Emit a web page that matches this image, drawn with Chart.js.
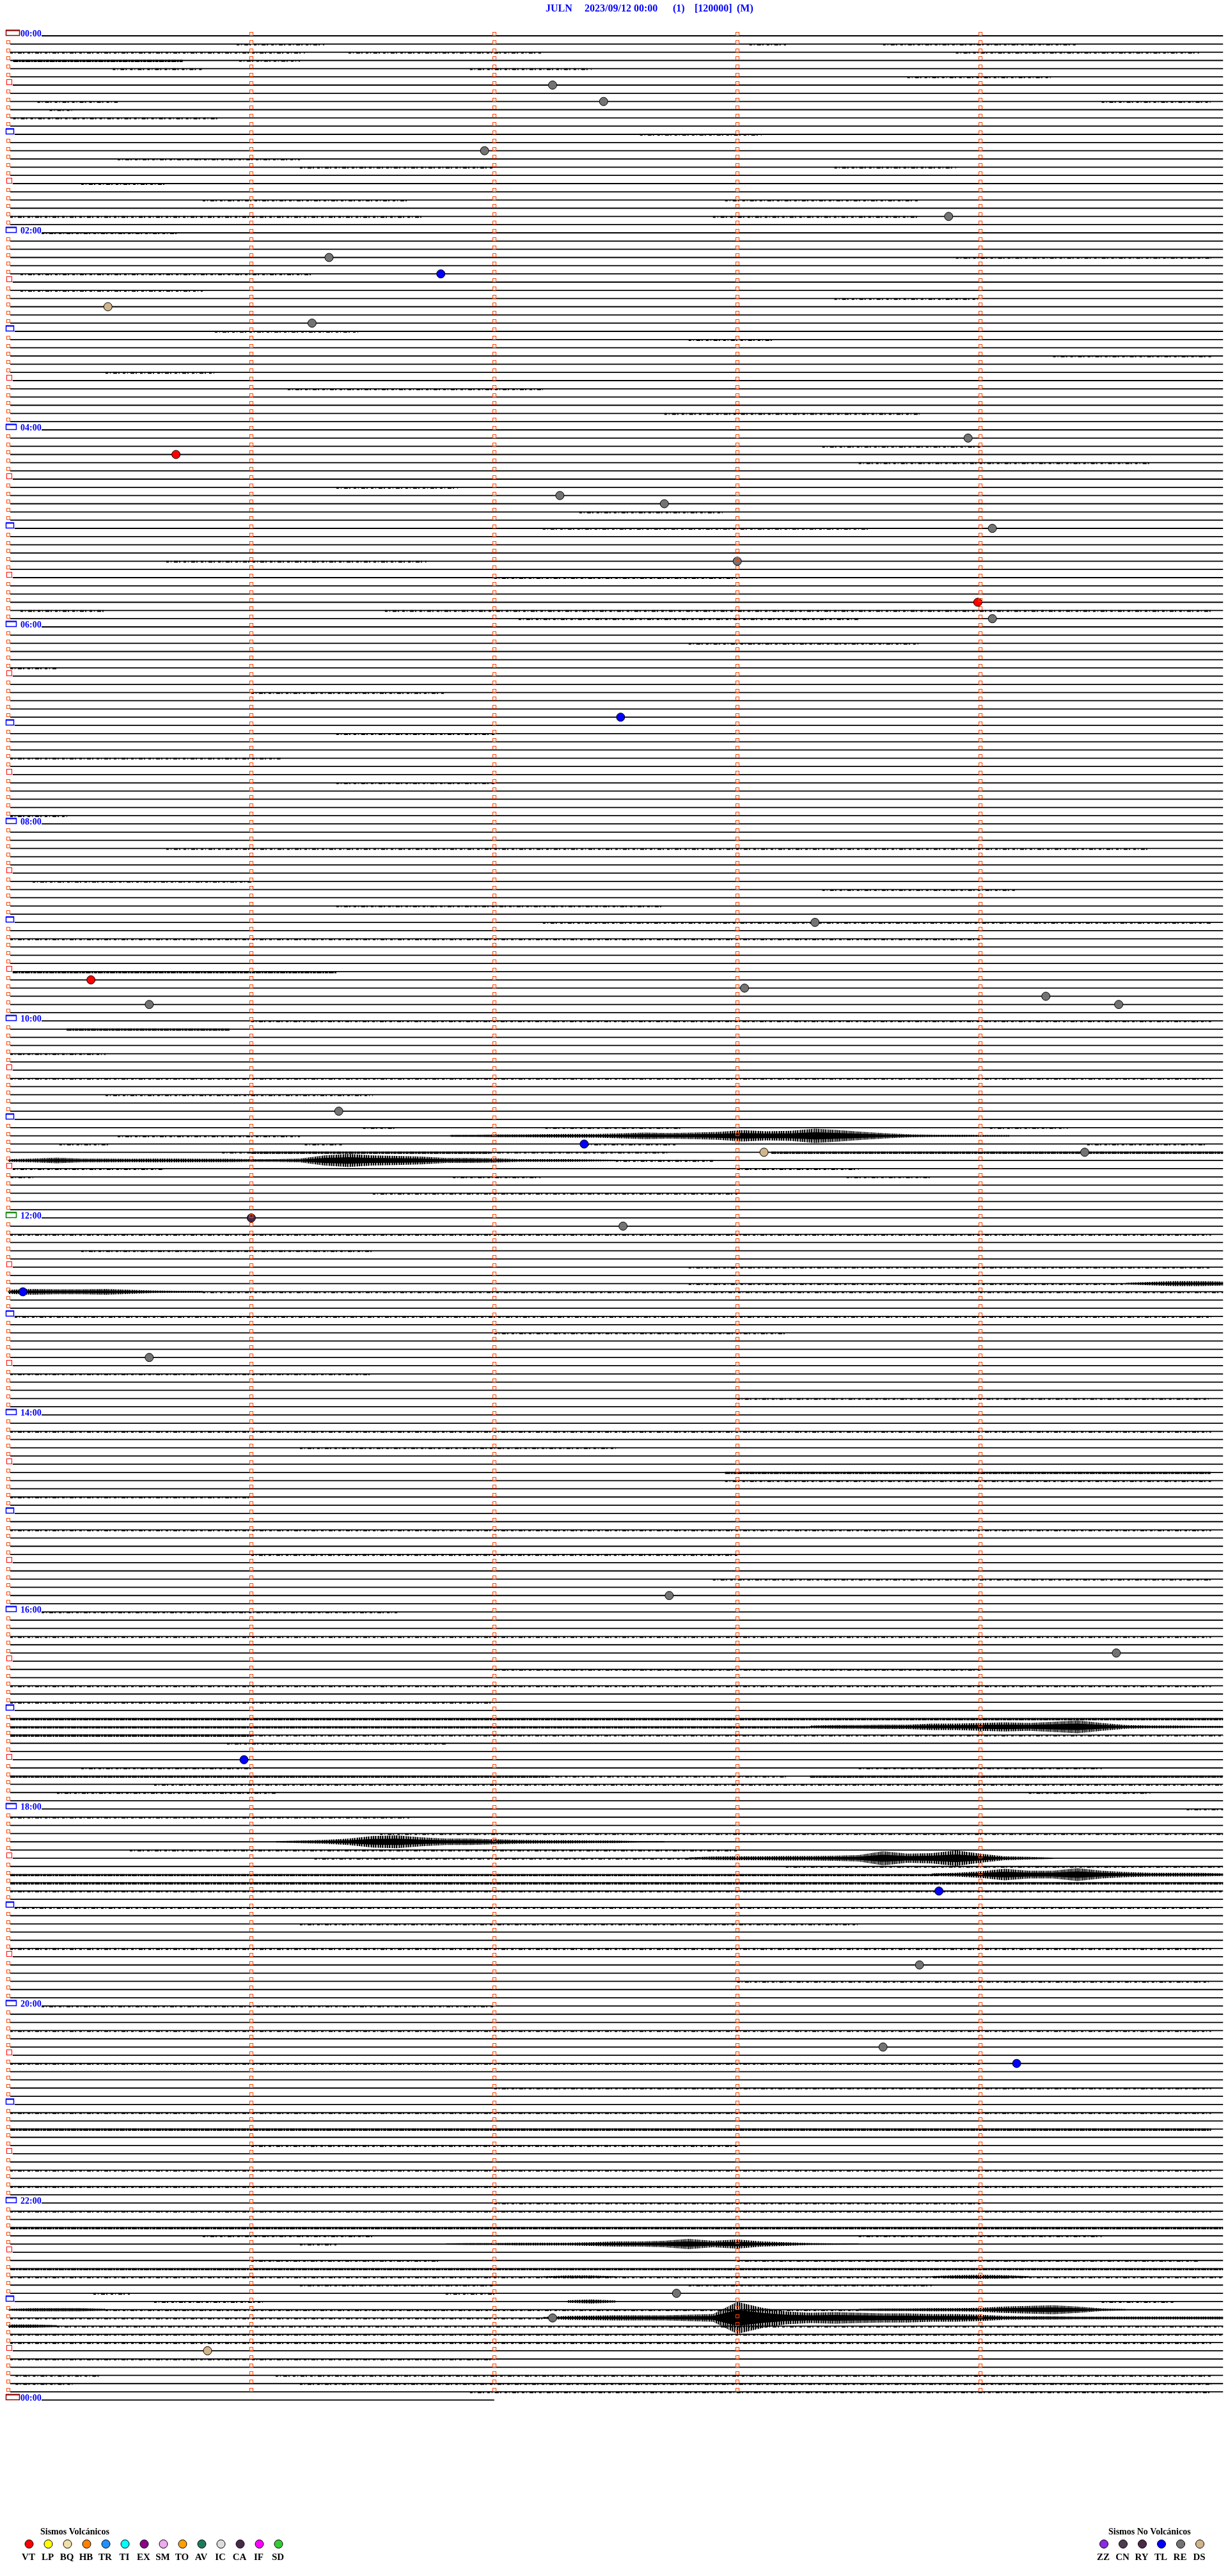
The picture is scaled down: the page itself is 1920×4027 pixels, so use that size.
<!DOCTYPE html>
<html>
<head>
<meta charset="utf-8">
<script src="https://cdn.jsdelivr.net/npm/chart.js@4/dist/chart.umd.min.js"></script>
<style>
  html, body { margin: 0; padding: 0; background: #fff; }
  #heli { display: block; }
</style>
</head>
<body>
<canvas id="heli" width="1920" height="4027"></canvas>
<script>
// Helicorder JULN 2023/09/12 - 5 minute traces, 12 per hour
const stationTitle = ['JULN', '2023/09/12 00:00', '(1)', '[120000]', '(M)'];
const lineCount = 289;          // 288 traces + the first trace of the next day
const minutesPerLine = 5;
const lastLineEnd = 2.0;        // next-day trace stops at minute 2

// legend
const volcTypes = ['VT', 'LP', 'BQ', 'HB', 'TR', 'TI', 'EX', 'SM', 'TO', 'AV', 'IC', 'CA', 'IF', 'SD'];
const volcColors = ['#ff0000', '#ffff00', '#f0e0a8', '#ff8000', '#1e90ff', '#00ffff', '#8b008b', '#eeaaee', '#ffa000', '#1f7a5c', '#dcdcdc', '#4a2848', '#ff00ff', '#33cc33'];
const nonVolcTypes = ['ZZ', 'CN', 'RY', 'TL', 'RE', 'DS'];
const nonVolcColors = ['#8a2be2', '#4e3a50', '#4a2a48', '#0000ff', '#737373', '#d2b48c'];

// classified events: trace index, minute inside trace, type
const eventLines = [6, 8, 14, 22, 27, 29, 33, 35, 49, 51, 56, 57, 60, 64, 69, 71, 83, 108, 115, 116, 117, 118, 118, 131, 135, 136, 136, 144, 145, 153, 161, 190, 197, 210, 226, 235, 245, 247, 275, 278, 282];
const eventMinutes = [2.24, 2.45, 1.96, 3.87, 1.32, 1.78, 0.41, 1.25, 3.95, 0.69, 2.27, 2.70, 4.05, 3.00, 3.99, 4.05, 2.52, 3.32, 0.34, 3.03, 4.27, 0.58, 4.57, 1.36, 2.37, 3.11, 4.43, 1.00, 2.53, 0.06, 0.58, 2.72, 4.56, 0.97, 3.83, 3.75, 3.60, 4.15, 2.75, 2.24, 0.82];
const eventTypes = ['RE', 'RE', 'RE', 'RE', 'RE', 'TL', 'DS', 'RE', 'RE', 'VT', 'RE', 'RE', 'RE', 'RE', 'VT', 'RE', 'TL', 'RE', 'VT', 'RE', 'RE', 'RE', 'RE', 'RE', 'TL', 'DS', 'RE', 'CA', 'RE', 'TL', 'RE', 'RE', 'RE', 'TL', 'TL', 'RE', 'RE', 'TL', 'RE', 'RE', 'DS'];

// background noise stretches: [trace, from min, to min, level 1 light / 2 dense]
const speckle = [
  [1, 0.94, 1.3, 1], [1, 3.05, 3.2, 1], [1, 3.6, 4.4, 1],
  [2, 0.0, 1.22, 1], [2, 1.4, 2.2, 1], [2, 3.9, 4.9, 1],
  [3, 0.02, 0.72, 2], [3, 0.95, 1.2, 1], [4, 0.43, 0.8, 1], [4, 1.9, 2.4, 1],
  [5, 3.7, 4.3, 1], [8, 0.12, 0.45, 1], [8, 4.5, 4.95, 1], [9, 0.17, 0.27, 1], [10, 0.02, 0.87, 1],
  [12, 2.6, 3.1, 1], [15, 0.45, 1.2, 1], [16, 1.2, 2.0, 1], [16, 3.4, 3.9, 1], [18, 0.3, 0.65, 1],
  [20, 0.8, 1.65, 1], [20, 2.95, 3.75, 1], [22, 0.0, 1.7, 1], [22, 2.9, 3.75, 1], [24, 0.0, 0.7, 1],
  [27, 3.9, 4.95, 1], [29, 0.05, 1.25, 1], [31, 0.05, 0.8, 1], [32, 3.4, 4.0, 1], [36, 0.85, 1.45, 1],
  [37, 2.8, 3.15, 1], [39, 4.3, 4.95, 1], [41, 0.4, 0.85, 1], [43, 1.15, 2.2, 1], [46, 2.7, 3.75, 1],
  [50, 3.35, 4.0, 1], [52, 3.5, 4.7, 1], [55, 1.35, 1.85, 1], [58, 2.35, 2.95, 1], [60, 2.2, 3.55, 1],
  [64, 0.65, 1.72, 1], [66, 2.0, 3.0, 1], [70, 0.05, 0.4, 1], [70, 1.55, 4.95, 1], [71, 2.1, 3.5, 1],
  [74, 2.8, 3.75, 1], [77, 0.0, 0.2, 1], [80, 1.0, 1.8, 1], [85, 1.35, 2.0, 1], [88, 0.0, 1.12, 1],
  [91, 1.35, 2.0, 1], [95, 0.0, 0.25, 1], [99, 0.65, 4.7, 1], [103, 0.1, 1.0, 1], [104, 3.35, 4.15, 1],
  [106, 1.35, 2.7, 1], [108, 2.2, 4.95, 1], [110, 0.0, 4.0, 1], [114, 0.0, 1.35, 2], [120, 1.0, 4.95, 1],
  [121, 0.24, 0.91, 2], [124, 0.0, 0.4, 1], [127, 0.0, 4.95, 1], [129, 0.4, 1.5, 1],
  [133, 1.46, 1.59, 1], [133, 2.21, 2.77, 1], [133, 4.04, 4.36, 1], [134, 0.45, 1.2, 1],
  [135, 0.21, 0.42, 1], [135, 1.22, 1.38, 1], [135, 2.38, 2.75, 1], [135, 4.44, 4.93, 1],
  [136, 0.88, 1.0, 1], [136, 1.0, 1.98, 2], [136, 1.98, 2.72, 1], [136, 3.14, 5.0, 2],
  [137, 2.5, 2.9, 1], [138, 0.0, 0.64, 1], [138, 3.0, 3.5, 1], [139, 0.01, 0.11, 1], [139, 1.83, 2.19, 1], [139, 3.45, 3.8, 1],
  [141, 1.5, 3.0, 1], [146, 0.0, 4.95, 1], [148, 0.3, 1.5, 1], [150, 2.8, 4.95, 1], [152, 2.8, 4.6, 1], [153, 0.8, 5.0, 1],
  [156, 0.0, 4.95, 1], [158, 2.0, 3.2, 1], [163, 0.0, 1.5, 1], [166, 3.0, 4.95, 1], [170, 0.0, 4.95, 1],
  [172, 1.2, 2.5, 1], [175, 2.95, 4.95, 2], [176, 2.95, 4.95, 1], [178, 0.0, 1.0, 1], [182, 0.0, 4.95, 1],
  [185, 1.0, 3.0, 1], [188, 2.9, 4.95, 1], [192, 0.0, 1.6, 1], [195, 0.0, 4.95, 1], [199, 2.0, 4.0, 1],
  [201, 0.0, 4.95, 1], [203, 0.0, 2.0, 1],
  [205, 0.0, 5.0, 2], [206, 0.0, 3.3, 2], [207, 0.0, 1.0, 2], [207, 1.0, 5.0, 1], [208, 0.9, 1.8, 1],
  [211, 0.3, 1.0, 1], [211, 3.5, 4.5, 1], [212, 0.0, 2.22, 2], [212, 2.22, 3.2, 1], [212, 3.3, 5.0, 2],
  [213, 0.6, 5.0, 1], [214, 0.2, 1.1, 1], [214, 4.2, 4.7, 1], [216, 4.85, 5.0, 1], [217, 0.0, 1.65, 1],
  [219, 1.53, 5.0, 1], [221, 0.5, 3.0, 1], [222, 1.26, 2.86, 1], [223, 3.2, 5.0, 1], [224, 0.0, 3.83, 2],
  [225, 0.0, 5.0, 2], [226, 0.0, 5.0, 1],
  [228, 0.0, 4.95, 1], [230, 1.2, 3.5, 1], [233, 0.0, 4.95, 1], [237, 3.0, 4.95, 1], [240, 0.0, 2.0, 1],
  [243, 0.0, 4.95, 1], [247, 0.0, 4.0, 1], [250, 2.0, 4.95, 1], [253, 0.0, 4.95, 1], [255, 0.0, 4.95, 2],
  [257, 1.0, 3.0, 1], [260, 0.0, 4.95, 1], [262, 0.0, 4.95, 1], [264, 2.0, 4.0, 1], [265, 0.0, 4.95, 1],
  [267, 0.0, 5.0, 2], [268, 0.8, 1.5, 1], [268, 3.5, 4.5, 1], [269, 1.2, 1.35, 1], [271, 1.0, 1.77, 1],
  [271, 3.0, 4.9, 1], [272, 0.0, 5.0, 2], [273, 0.0, 5.0, 1], [274, 1.2, 2.0, 1], [274, 2.8, 3.8, 1],
  [275, 0.35, 0.5, 1], [275, 1.8, 2.0, 1], [276, 0.6, 1.05, 1], [276, 4.5, 4.8, 1], [277, 0.4, 3.5, 1],
  [278, 0.0, 2.2, 1], [279, 0.2, 5.0, 1], [280, 0.0, 5.0, 1],
  [281, 0.0, 4.95, 1], [283, 0.0, 2.0, 1], [285, 0.03, 0.38, 1], [285, 1.1, 4.95, 1], [286, 0.03, 0.27, 1],
  [286, 1.2, 4.95, 1], [287, 1.9, 4.95, 1]
];

// seismic bursts: [trace, from min, to min, half amplitudes in trace heights, one every 0.1 min]
const bursts = [
  [134, 1.82, 4.12, [.12, .12, .16, .16, .2, .23, .23, .31, .39, .35, .39, .47, .7, .55, .62, .86, .7, .47, .31, .16, .12, .12, .09, .08]],
  [137, 0.0, 2.5, [.16, .23, .35, .23, .23, .2, .23, .23, .2, .2, .16, .16, .23, .62, .78, .62, .55, .47, .31, .31, .27, .16, .16, .16, .12, .08]],
  [152, 4.6, 5.0, [.1, .2, .3, .3, .25]],
  [153, 0.0, 0.8, [.25, .35, .3, .3, .35, .25, .15, .12, .12]],
  [206, 3.3, 5.0, [.16, .23, .23, .27, .27, .39, .39, .47, .55, .47, .62, .78, .47, .23, .16, .16, .12, .12]],
  [220, 1.1, 2.7, [.08, .16, .23, .39, .7, .78, .55, .39, .39, .31, .23, .2, .2, .16, .16, .08, .08]],
  [222, 2.8, 4.3, [.12, .2, .23, .23, .27, .27, .31, .39, .86, .55, .62, .94, .55, .23, .16, .08]],
  [224, 3.8, 5.0, [.16, .23, .39, .7, .47, .47, .78, .47, .31, .23, .23, .23, .16]],
  [269, 1.8, 3.5, [.08, .12, .12, .16, .16, .16, .23, .31, .31, .39, .62, .39, .55, .31, .23, .12, .09, .08]],
  [273, 2.2, 2.5, [.08, .16, .16, .08]],
  [273, 3.8, 4.2, [.1, .2, .25, .2, .1]],
  [276, 2.3, 2.5, [.15, .25, .12]],
  [277, 0.0, 0.4, [.12, .2, .2, .2, .12]],
  [277, 3.5, 4.6, [.12, .16, .16, .2, .2, .23, .39, .47, .55, .39, .16, .08]],
  [278, 2.2, 5.0, [.12, .23, .27, .31, .31, .31, .39, .47, 1.95, 1.25, .78, .62, .7, .62, .55, .55, .47, .47, .39, .23, .2, .2, .16, .16, .16, .16, .16, .16, .16]],
  [279, 0.0, 0.2, [.2, .2, .12]]
];

// where each trace starts (minutes), leaving room for the marker boxes and hour labels
function lineStart(k) {
  if (k % 24 === 0) return 0.137;
  if (k % 12 === 0) return 0.026;
  if (k % 6 === 0) return 0.018;
  return 0.008;
}

// vertical hair texture for burst fills
function hairPattern() {
  const c = document.createElement('canvas');
  c.width = 11; c.height = 1;
  const g = c.getContext('2d');
  g.fillStyle = '#000';
  [[0, 2], [3, 2], [6, 1], [8, 2]].forEach(([x0, w]) => g.fillRect(x0, 0, w, 1));
  return g.createPattern(c, 'repeat');
}
const hair = hairPattern();

const datasets = [];

// baselines
const baseline = [];
for (let k = 0; k < lineCount; k++) {
  const end = k === lineCount - 1 ? lastLineEnd : minutesPerLine;
  baseline.push({ x: lineStart(k), y: k }, { x: end, y: k }, { x: end, y: null });
}
datasets.push({ data: baseline, borderColor: '#000', borderWidth: 1.8, pointRadius: 0, spanGaps: false, order: 5 });

// noise stretches
[1, 2].forEach(level => {
  const pts = [];
  speckle.filter(s => s[3] === level).forEach(s => {
    pts.push({ x: Math.max(s[1], lineStart(s[0])), y: s[0] + 0.06 }, { x: s[2], y: s[0] + 0.06 }, { x: s[2], y: null });
  });
  datasets.push({
    data: pts,
    borderColor: '#000',
    borderWidth: level === 1 ? 2.6 : 3.4,
    borderDash: level === 1 ? [4, 3, 1, 4, 6, 2, 2, 5] : [8, 1, 3, 1, 5, 1],
    borderCapStyle: 'butt',
    pointRadius: 0,
    spanGaps: false,
    order: 4
  });
});

// burst envelopes
bursts.forEach(b => {
  const [k, from, to, amps] = b;
  const step = (to - from) / (amps.length - 1);
  const upper = amps.map((a, i) => ({ x: from + i * step, y: k - a }));
  const lower = amps.map((a, i) => ({ x: from + i * step, y: k + a }));
  datasets.push({ data: upper, borderWidth: 0, backgroundColor: hair, fill: '+1', pointRadius: 0, order: 3 });
  datasets.push({ data: lower, borderWidth: 0, fill: false, pointRadius: 0, order: 3 });
  // dense core of the burst
  const cu = amps.map((a, i) => ({ x: from + i * step, y: k - a * 0.5 }));
  const cl = amps.map((a, i) => ({ x: from + i * step, y: k + a * 0.5 }));
  datasets.push({ data: cu, borderWidth: 0, backgroundColor: '#000', fill: '+1', pointRadius: 0, order: 3 });
  datasets.push({ data: cl, borderWidth: 0, fill: false, pointRadius: 0, order: 3 });
});

// events
function typeColor(t) {
  const j = nonVolcTypes.indexOf(t);
  if (j >= 0 && t !== 'CA') return nonVolcColors[j];
  return volcColors[volcTypes.indexOf(t)];
}
[...new Set(eventTypes)].forEach(t => {
  const pts = [];
  eventTypes.forEach((et, i) => { if (et === t) pts.push({ x: eventMinutes[i], y: eventLines[i] }); });
  datasets.push({
    data: pts,
    showLine: false,
    pointRadius: 6.5,
    pointBackgroundColor: typeColor(t),
    pointBorderColor: '#000',
    pointBorderWidth: 1,
    order: 0
  });
});

// minute markers, hour boxes, hour labels, title and legend
const helicorderMarks = {
  id: 'helicorderMarks',
  afterDatasetsDraw(chart) {
    const { ctx, scales: { x, y } } = chart;
    ctx.save();

    for (let k = 0; k < lineCount; k++) {
      const py = Math.round(y.getPixelForValue(k));
      ctx.lineWidth = 1;
      if (k < lineCount - 1) {
        ctx.strokeStyle = '#ff4500';
        for (let m = 1; m < minutesPerLine; m++) {
          const px = Math.round(x.getPixelForValue(m));
          ctx.strokeRect(px - 2.5, py - 5.5, 5, 5);
        }
      }
      if (k % 12 === 0) {
        const labeled = k % 24 === 0;
        let col = '#0000ff';
        if (k === 0 || k === lineCount - 1) col = '#8b0000';
        else if (k === 144) col = '#008000';
        const w = (k === 0 || k === lineCount - 1) ? 21 : (labeled ? 16 : 12);
        ctx.strokeStyle = col;
        ctx.fillStyle = col;
        ctx.lineWidth = 1.5;
        ctx.strokeRect(9.5, py - 8.5, w, 8);
        ctx.fillRect(9, py - 9.5, w + 1, 2);
        if (labeled) {
          const h = String((k / 12) % 24).padStart(2, '0');
          ctx.fillStyle = '#0000ff';
          ctx.font = 'bold 14px "Liberation Serif", "DejaVu Serif", serif';
          ctx.textBaseline = 'alphabetic';
          ctx.fillText(h + ':00', 32, py + 0.5);
        }
      } else if (k % 6 === 0) {
        ctx.strokeStyle = '#ff0000';
        ctx.lineWidth = 1;
        ctx.strokeRect(10.5, py - 8.5, 8, 8);
      } else {
        ctx.strokeStyle = '#ff4500';
        ctx.lineWidth = 1;
        ctx.strokeRect(10.5, py - 5.5, 5, 5);
      }
    }

    // title
    ctx.fillStyle = '#0000ff';
    ctx.font = 'bold 16px "Liberation Serif", "DejaVu Serif", serif';
    ctx.textAlign = 'left';
    ctx.textBaseline = 'alphabetic';
    const titleX = [853, 914, 1052, 1086, 1152];
    stationTitle.forEach((t, i) => ctx.fillText(t, titleX[i], 18));

    // legends
    const drawLegend = (title, titleX, types, colors, x0) => {
      ctx.fillStyle = '#000';
      ctx.font = 'bold 14px "Liberation Serif", "DejaVu Serif", serif';
      ctx.textAlign = 'left';
      ctx.fillText(title, titleX, 3962);
      types.forEach((t, i) => {
        const cx = x0 + 30 * i;
        ctx.beginPath();
        ctx.arc(cx, 3977, 6.5, 0, Math.PI * 2);
        ctx.fillStyle = colors[i];
        ctx.fill();
        ctx.strokeStyle = '#000';
        ctx.lineWidth = 1;
        ctx.stroke();
        ctx.fillStyle = '#000';
        ctx.font = 'bold 15px "Liberation Serif", "DejaVu Serif", serif';
        ctx.textAlign = 'center';
        ctx.fillText(t, cx - 1, 4002);
      });
    };
    drawLegend('Sismos Volcánicos', 63, volcTypes, volcColors, 45.5);
    drawLegend('Sismos No Volcánicos', 1733, nonVolcTypes, nonVolcColors, 1726);

    ctx.restore();
  }
};

const lineGap = 12.833;
const firstLineY = 56;
const topPad = firstLineY - lineGap;
const bottomPad = 4027 - (firstLineY + lineCount * lineGap);

const heli = new Chart(document.getElementById('heli'), {
  type: 'line',
  data: { datasets },
  options: {
    responsive: false,
    animation: false,
    devicePixelRatio: 1,
    events: [],
    layout: { padding: { left: 13, right: 7, top: topPad, bottom: bottomPad } },
    scales: {
      x: { type: 'linear', min: 0, max: minutesPerLine, display: false },
      y: { type: 'linear', min: -1, max: lineCount, reverse: true, display: false }
    },
    elements: { line: { tension: 0 }, point: { radius: 0 } },
    plugins: { legend: { display: false }, tooltip: { enabled: false } }
  },
  plugins: [helicorderMarks]
});
</script>
</body>
</html>
